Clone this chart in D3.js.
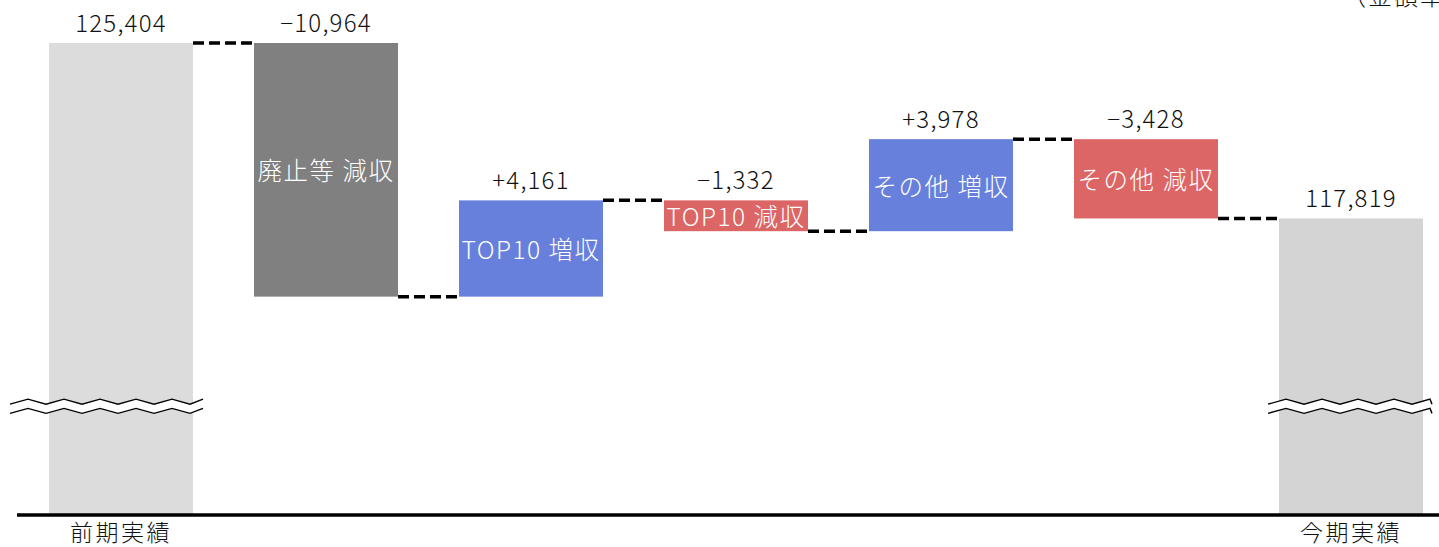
<!DOCTYPE html>
<html>
<head>
<meta charset="utf-8">
<script src="https://cdn.jsdelivr.net/npm/d3@7"></script>
<style>
  html, body { margin: 0; padding: 0; background: #fff; overflow: hidden; }
  text { font-family: "Noto Sans CJK JP", "Noto Sans", sans-serif; font-weight: 300; }
</style>
</head>
<body>
<svg id="chart" width="1439" height="547"></svg>
<script>
// ---- data ----
const categories = ["前期実績", "廃止等 減収", "TOP10 増収", "TOP10 減収", "その他 増収", "その他 減収", "今期実績"];
const barKinds   = ["total", "delta", "delta", "delta", "delta", "delta", "total"];
const values     = [125404, -10964, 4161, -1332, 3978, -3428, 117819];
const valueLabels = ["125,404", "−10,964", "+4,161", "−1,332", "+3,978", "−3,428", "117,819"];
const barColors  = ["#dcdcdc", "#808080", "#6780dc", "#dc6666", "#6780dc", "#dc6666", "#d4d4d4"];
const unitLabel  = "（金額単位：百万円）";
const axisMin = 105000;      // visible floor of the broken axis
const breakValue = 109700;   // where the axis break is drawn

// ---- layout ----
const svg = d3.select("#chart");

const x = d3.scaleBand()
  .domain(categories)
  .range([18.5, 1453.5])
  .paddingInner(0.2976)
  .paddingOuter(0.1488);

const y = d3.scaleLinear()
  .domain([axisMin, 125404])
  .range([515, 43]);

// running totals
let run = 0;
const bars = categories.map((c, i) => {
  let lo, hi, end;
  if (barKinds[i] === "total") {
    lo = axisMin; hi = values[i]; end = values[i];
  } else {
    const start = run; end = run + values[i];
    lo = Math.min(start, end); hi = Math.max(start, end);
  }
  run = end;
  return { cat: c, lo, hi, end, color: barColors[i], label: valueLabels[i], kind: barKinds[i] };
});

// bars
svg.append("g").selectAll("rect").data(bars).join("rect")
  .attr("x", d => x(d.cat))
  .attr("width", x.bandwidth())
  .attr("y", d => y(d.hi))
  .attr("height", d => y(d.lo) - y(d.hi))
  .attr("fill", d => d.color);

// connectors
const conn = bars.slice(0, -1).map((d, i) => ({ x1: x(d.cat) + x.bandwidth(), x2: x(bars[i + 1].cat), v: d.end }));
svg.append("g").selectAll("line").data(conn).join("line")
  .attr("x1", d => d.x1).attr("x2", d => d.x2)
  .attr("y1", d => y(d.v)).attr("y2", d => y(d.v))
  .attr("stroke", "#000").attr("stroke-width", 3.5)
  .attr("stroke-dasharray", "11,5");

// value labels
svg.append("g").selectAll("text").data(bars).join("text")
  .attr("x", d => x(d.cat) + x.bandwidth() / 2)
  .attr("y", d => y(d.hi) - 11)
  .attr("text-anchor", "middle")
  .attr("font-size", 24)
  .attr("letter-spacing", 1.2)
  .attr("fill", "#111")
  .text(d => d.label);

// inner labels for delta bars
svg.append("g").selectAll("text").data(bars.filter(d => d.kind === "delta")).join("text")
  .attr("x", d => x(d.cat) + x.bandwidth() / 2)
  .attr("y", d => (y(d.hi) + y(d.lo)) / 2)
  .attr("text-anchor", "middle")
  .attr("dominant-baseline", "central")
  .attr("font-size", 24.5)
  .attr("letter-spacing", 1.5)
  .attr("fill", "#fff")
  .text(d => d.cat);

// axis break on total bars
const yb = y(breakValue);
const totals = bars.filter(d => d.kind === "total");
const extents = [[-39, 10], [-11, 9]];
totals.forEach((d, k) => {
  const x0 = x(d.cat) + extents[k][0];
  const x1 = x(d.cat) + x.bandwidth() + extents[k][1];
  const half = 18, amp = 2.5, gap = 4.6;
  const pts = [];
  let s = 1;
  for (let xx = x0; xx < x1; xx += half) { pts.push([xx, s * amp]); s = -s; }
  pts.push([x1, s * amp]);
  const upper = pts.map(p => [p[0], yb - gap + p[1]]);
  const lower = pts.map(p => [p[0], yb + gap + p[1]]);
  const line = d3.line();
  svg.append("path")
    .attr("d", line(upper.concat(lower.slice().reverse())) + "Z")
    .attr("fill", "#fff");
  svg.append("path").attr("d", line(upper)).attr("fill", "none").attr("stroke", "#000").attr("stroke-width", 1.4);
  svg.append("path").attr("d", line(lower)).attr("fill", "none").attr("stroke", "#000").attr("stroke-width", 1.4);
});

// bottom axis
const axis = d3.axisBottom(x)
  .tickValues([categories[0], categories[categories.length - 1]])
  .tickSize(0)
  .tickPadding(10);
const ax = svg.append("g").attr("transform", `translate(0,${y(axisMin)})`).call(axis);
ax.select(".domain").attr("stroke", "#000").attr("stroke-width", 3.5)
  .attr("d", `M${x.range()[0] - 1.5},0H${x.range()[1]}`);
ax.selectAll(".tick text")
  .attr("font-size", 23)
  .attr("letter-spacing", 2.5)
  .attr("font-family", "Noto Sans CJK JP, sans-serif")
  .attr("font-weight", 300)
  .attr("fill", "#111");

// unit label (partially clipped at top, as in the original)
svg.append("text")
  .attr("x", 1342).attr("y", 5)
  .attr("font-size", 24)
  .attr("letter-spacing", 2)
  .attr("fill", "#111")
  .text(unitLabel);
</script>
</body>
</html>
